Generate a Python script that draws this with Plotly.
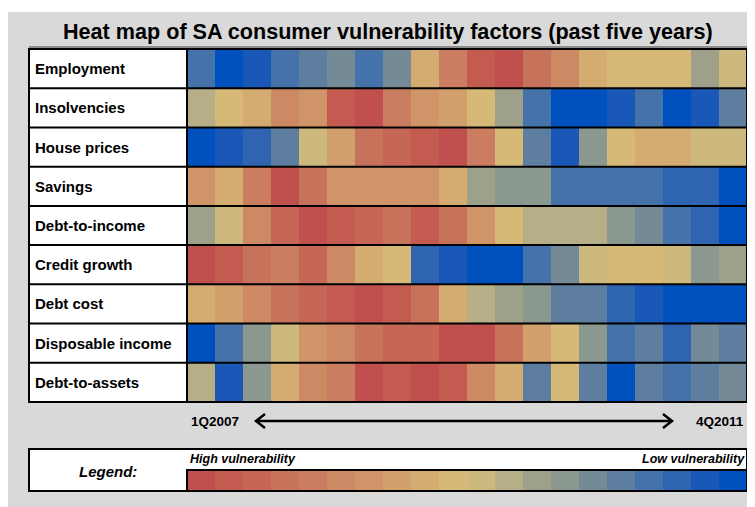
import plotly.graph_objects as go

# vulnerability level per quarter: 0 = high vulnerability (red) ... 19 = low vulnerability (blue)
factors = ["Employment", "Insolvencies", "House prices", "Savings", "Debt-to-income",
           "Credit growth", "Debt cost", "Disposable income", "Debt-to-assets"]

quarters = ["1Q2007", "2Q2007", "3Q2007", "4Q2007", "1Q2008", "2Q2008", "3Q2008", "4Q2008",
            "1Q2009", "2Q2009", "3Q2009", "4Q2009", "1Q2010", "2Q2010", "3Q2010", "4Q2010",
            "1Q2011", "2Q2011", "3Q2011", "4Q2011"]

employment = [16, 19, 18, 16, 15, 14, 16, 14, 8, 4, 1, 0, 3, 5, 8, 9, 9, 9, 12, 10]
insolvencies = [11, 9, 8, 5, 6, 1, 0, 4, 6, 7, 9, 12, 16, 19, 19, 18, 16, 19, 18, 15]
house_prices = [19, 18, 17, 15, 10, 7, 3, 2, 1, 0, 4, 9, 15, 18, 13, 9, 8, 8, 10, 10]
savings = [6, 8, 4, 0, 3, 6, 6, 6, 6, 8, 12, 13, 13, 16, 16, 16, 16, 17, 17, 19]
debt_to_income = [12, 10, 5, 2, 0, 1, 2, 3, 1, 3, 6, 9, 11, 11, 11, 13, 14, 16, 17, 19]
credit_growth = [0, 1, 3, 4, 2, 5, 8, 9, 17, 18, 19, 19, 16, 14, 10, 9, 9, 10, 13, 12]
debt_cost = [8, 7, 5, 3, 2, 1, 0, 1, 3, 8, 11, 12, 13, 15, 15, 17, 18, 19, 19, 19]
disposable_income = [19, 16, 13, 10, 6, 5, 3, 2, 2, 0, 0, 3, 7, 9, 13, 16, 15, 17, 14, 15]
debt_to_assets = [11, 18, 13, 8, 5, 4, 0, 1, 0, 1, 5, 8, 15, 9, 15, 19, 15, 16, 15, 14]

legend_levels = list(range(20))

palette = ["#C0504D", "#C35B51", "#C56656", "#C7725B", "#CA7D60", "#CC8964", "#CF9568",
           "#D1A06D", "#D4AC72", "#D6B877", "#CDB97D", "#B5AE86", "#9FA08A", "#8A9890",
           "#748A96", "#5E7EA0", "#4572A8", "#2F64B0", "#1A58B8", "#0050BE"]

# the page body has an 8px margin, so the figure starts at (8, 8) in the window
OFF = 8
W, H = 755 - OFF, 507 - OFF
FONT = "Liberation Sans, Arial, sans-serif"


def px(x):
    return (x - OFF) / W


def py(y):
    return 1 - (y - OFF) / H


# stepped colour scale, one band per level
colorscale = []
for i, c in enumerate(palette):
    colorscale.append([i / len(palette), c])
    colorscale.append([(i + 1) / len(palette), c])

rows = [employment, insolvencies, house_prices, savings, debt_to_income,
        credit_growth, debt_cost, disposable_income, debt_to_assets]

fig = go.Figure()

fig.add_trace(go.Heatmap(
    z=rows, x=quarters, y=factors,
    colorscale=colorscale, zmin=-0.5, zmax=19.5,
    showscale=False, xaxis="x", yaxis="y"
))

fig.add_trace(go.Heatmap(
    z=[legend_levels], x=legend_levels, y=["Legend"],
    colorscale=colorscale, zmin=-0.5, zmax=19.5,
    showscale=False, xaxis="x2", yaxis="y2", hoverinfo="skip"
))

# table geometry (window pixels)
left, split, right = 29, 187, 747
top, bottom = 49, 402
row_h = (bottom - top) / len(factors)

shapes = [
    dict(type="rect", xref="paper", yref="paper", x0=px(8), x1=1.01, y0=py(12), y1=-0.01,
         fillcolor="#D9D9D9", line_width=0, layer="below"),
    dict(type="rect", xref="paper", yref="paper", x0=px(left), x1=px(split), y0=py(bottom), y1=py(top),
         fillcolor="white", line_width=0, layer="below"),
    dict(type="line", xref="paper", yref="paper", x0=px(left), x1=px(right + 2), y0=py(top - 2), y1=py(top - 2),
         line=dict(color="#8C8C8C", width=2)),
    dict(type="line", xref="paper", yref="paper", x0=px(right + 2), x1=px(right + 2), y0=py(bottom + 1), y1=py(top - 2),
         line=dict(color="#A6A6A6", width=1)),
    dict(type="rect", xref="paper", yref="paper", x0=px(left), x1=px(right), y0=py(bottom), y1=py(top),
         line=dict(color="black", width=2)),
    dict(type="line", xref="paper", yref="paper", x0=px(split), x1=px(split), y0=py(bottom), y1=py(top),
         line=dict(color="black", width=2)),
]
for k in range(1, len(factors)):
    yk = top + k * row_h
    shapes.append(dict(type="line", xref="paper", yref="paper", x0=px(left), x1=px(right),
                       y0=py(yk), y1=py(yk), line=dict(color="black", width=2)))

# legend box
lg_top, lg_bar, lg_bottom = 449, 470, 491
shapes += [
    dict(type="rect", xref="paper", yref="paper", x0=px(left), x1=px(right), y0=py(lg_bottom), y1=py(lg_top),
         fillcolor="white", line=dict(color="black", width=2), layer="below"),
    dict(type="rect", xref="paper", yref="paper", x0=px(split), x1=px(right), y0=py(lg_bottom), y1=py(lg_bar),
         line=dict(color="black", width=2)),
]

# time arrow
ay = 421
shapes += [
    dict(type="line", xref="paper", yref="paper", x0=px(256), x1=px(672), y0=py(ay), y1=py(ay),
         line=dict(color="black", width=2.5)),
    dict(type="path", xref="paper", yref="paper",
         path=f"M {px(265)},{py(ay - 7)} L {px(256)},{py(ay)} L {px(265)},{py(ay + 7)}",
         line=dict(color="black", width=2.5)),
    dict(type="path", xref="paper", yref="paper",
         path=f"M {px(663)},{py(ay - 7)} L {px(672)},{py(ay)} L {px(663)},{py(ay + 7)}",
         line=dict(color="black", width=2.5)),
]


def label(text, x, y, size, xanchor="center"):
    return dict(text=text, x=px(x), y=py(y), xref="paper", yref="paper",
                xanchor=xanchor, yanchor="middle", showarrow=False,
                font=dict(size=size, color="black", family=FONT))


annotations = [
    label("<b>Heat map of SA consumer vulnerability factors (past five years)</b>", 388, 31, 21.6),
    label("<b>" + quarters[0] + "</b>", 189, ay, 13.5, "left"),
    label("<b>" + quarters[-1] + "</b>", 746, ay, 13.5, "right"),
    label("<b><i>Legend:</i></b>", 108, 471, 15),
    label("<b><i>High vulnerability</i></b>", 188, 459, 12.5, "left"),
    label("<b><i>Low vulnerability</i></b>", 747, 459, 12.5, "right"),
]
for i, name in enumerate(factors):
    annotations.append(label("<b>" + name + "</b>", 33, top + (i + 0.5) * row_h, 15, "left"))

fig.update_layout(
    width=W, height=H,
    margin=dict(l=0, r=0, t=0, b=0),
    paper_bgcolor="white",
    plot_bgcolor="white",
    showlegend=False,
    xaxis=dict(domain=[px(split), px(right)], visible=False, fixedrange=True),
    yaxis=dict(domain=[py(bottom), py(top)], visible=False, autorange="reversed", fixedrange=True),
    xaxis2=dict(domain=[px(split), px(right)], visible=False, anchor="y2", fixedrange=True),
    yaxis2=dict(domain=[py(lg_bottom), py(lg_bar)], visible=False, anchor="x2", fixedrange=True),
    shapes=shapes,
    annotations=annotations,
)

fig.write_html("out.html")
